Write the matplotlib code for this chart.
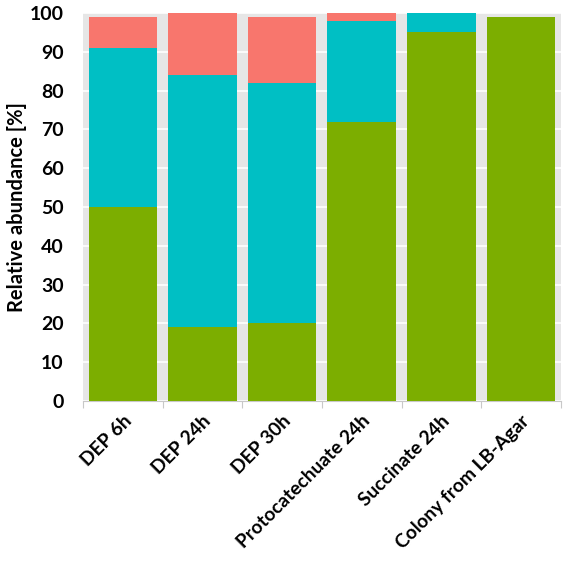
import numpy as np
import matplotlib
matplotlib.use("Agg")
import matplotlib.pyplot as plt

categories = ["DEP 6h", "DEP 24h", "DEP 30h", "Protocatechuate 24h",
              "Succinate 24h", "Colony from LB-Agar"]
green_vals = [50, 19, 20, 72, 95, 99]
cyan_vals = [41, 65, 62, 26, 5, 0]
red_vals = [8, 16, 17, 2, 0, 0]

plt.rcParams['font.family'] = ['Lato', 'DejaVu Sans']
plt.rcParams['font.weight'] = 'bold'

fig = plt.figure(figsize=(5.67, 5.61), dpi=100)
ax = fig.add_axes([0.1464, 0.285, 0.8426, 0.6918])
ax.set_facecolor("#E6E6E6")

x = np.arange(len(categories))
green = np.array(green_vals)
cyan = np.array(cyan_vals)
red = np.array(red_vals)

ax.bar(x, green, width=0.86, color="#7CAE00", zorder=3)
ax.bar(x, cyan, width=0.86, bottom=green, color="#00BFC4", zorder=3)
ax.bar(x, red, width=0.86, bottom=green + cyan, color="#F8766D", zorder=3)

ax.set_xlim(-0.5, len(categories) - 0.5)
ax.set_ylim(0, 100)
ax.set_yticks(range(0, 101, 10))
ax.yaxis.grid(True, color="white", linewidth=1.2, zorder=0)
ax.tick_params(axis="y", length=0, pad=14, labelsize=14)

# tick marks at category boundaries, labels at centres
ax.set_xticks(np.arange(-0.5, len(categories), 1.0))
ax.set_xticklabels([])
ax.tick_params(axis="x", which="major", length=5, color="#C8C8C8")
ax.set_xticks(x, minor=True)
ax.set_xticklabels(categories, minor=True, rotation=45, ha="right",
                   rotation_mode="anchor", fontsize=13.8, fontweight="bold")
ax.tick_params(axis="x", which="minor", length=0, pad=8)

for side in ["top", "right", "left"]:
    ax.spines[side].set_visible(False)
ax.spines["bottom"].set_color("#C8C8C8")

ax.set_ylabel("Relative abundance [%]", fontsize=14.5, fontweight="bold", labelpad=2)

fig.savefig("out.png", dpi=100)
